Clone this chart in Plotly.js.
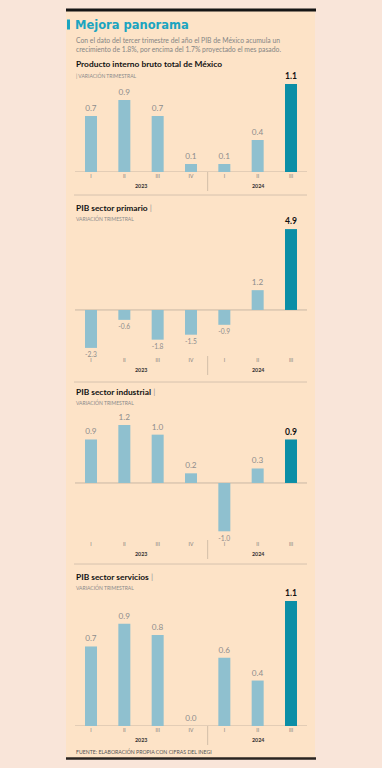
<!DOCTYPE html>
<html>
<head>
<meta charset="utf-8">
<script src="https://cdn.plot.ly/plotly-3.0.1.min.js"></script>
<style>
  html, body { margin: 0; padding: 0; background: #f9e5d9; }
  #chart { width: 382px; height: 768px; }
</style>
</head>
<body>
<div id="chart"></div>
<script>
// ---- Data ----
const quarters = ['I', 'II', 'III', 'IV', 'I', 'II', 'III'];
const years = ['2023', '2023', '2023', '2023', '2024', '2024', '2024'];
const pibTotal = [0.7, 0.9, 0.7, 0.1, 0.1, 0.4, 1.1];
const pibPrimario = [-2.3, -0.6, -1.8, -1.5, -0.9, 1.2, 4.9];
const pibIndustrial = [0.9, 1.2, 1.0, 0.2, -1.0, 0.3, 0.9];
const pibServicios = [0.7, 0.9, 0.8, 0.0, 0.6, 0.4, 1.1];

const chartTitles = [
  'Producto interno bruto total de México',
  'PIB sector primario',
  'PIB sector industrial',
  'PIB sector servicios'
];
const subTitle = 'VARIACIÓN TRIMESTRAL';
const mainTitle = 'Mejora panorama';
const intro = 'Con el dato del tercer trimestre del año el PIB de México acumula un<br>crecimiento de 1.8%, por encima del 1.7% proyectado el mes pasado.';
const source = 'FUENTE: ELABORACIÓN PROPIA CON CIFRAS DEL INEGI';

// ---- Layout helpers ----
const W = 382, H = 768;
const X = px => px / W;
const Y = py => 1 - py / H;

const LIGHT = '#8fc0cf';
const DARK = '#0b8ea6';
const TEAL = '#1ba4c0';
const FONT = 'Lato, "Open Sans", sans-serif';

const series = [pibTotal, pibPrimario, pibIndustrial, pibServicios];
// pixel geometry of each panel: plot top, plot bottom, y range
const panels = [
  { top: 80, bottom: 172, range: [0, 1.15], title: 64, sub: 75, subPrefix: true },
  { top: 222, bottom: 356, range: [-2.79, 5.33], title: 208, sub: 218 },
  { top: 410, bottom: 540, range: [-1.18, 1.51], title: 392, sub: 402 },
  { top: 595, bottom: 726, range: [0, 1.153], title: 577, sub: 587 }
];

const idx = quarters.map((_, i) => i);
const data = [];
const layout = {
  width: W, height: H,
  margin: { l: 0, r: 0, t: 0, b: 0 },
  paper_bgcolor: '#f9e5d9',
  plot_bgcolor: 'rgba(0,0,0,0)',
  showlegend: false,
  font: { family: FONT },
  shapes: [],
  annotations: []
};

// Panel background & black rules
layout.shapes.push({ type: 'rect', xref: 'paper', yref: 'paper', x0: X(66), x1: X(315), y0: Y(10), y1: Y(758),
  fillcolor: '#fde3c7', line: { width: 0 }, layer: 'below' });
layout.shapes.push({ type: 'line', xref: 'paper', yref: 'paper', x0: X(66), x1: X(316), y0: Y(10), y1: Y(10),
  line: { color: '#151515', width: 3 } });
layout.shapes.push({ type: 'line', xref: 'paper', yref: 'paper', x0: X(66), x1: X(316), y0: Y(758.5), y1: Y(758.5),
  line: { color: '#2a2420', width: 2.5 } });
layout.shapes.push({ type: 'rect', xref: 'paper', yref: 'paper', x0: X(67), x1: X(70), y0: Y(19.5), y1: Y(29.5),
  fillcolor: TEAL, line: { width: 0 } });
// separators between charts
[195, 382, 564].forEach(py => layout.shapes.push({ type: 'line', xref: 'paper', yref: 'paper',
  x0: X(74), x1: X(307), y0: Y(py), y1: Y(py), line: { color: '#d6c2ae', width: 1 } }));

// Header texts
layout.annotations.push({ xref: 'paper', yref: 'paper', x: X(73), y: Y(25), xanchor: 'left', yanchor: 'middle',
  text: '<b>' + mainTitle + '</b>', showarrow: false, font: { family: 'DejaVu Sans, sans-serif', size: 11.5, color: TEAL } });
layout.annotations.push({ xref: 'paper', yref: 'paper', x: X(74), y: Y(45), xanchor: 'left', yanchor: 'middle', align: 'left',
  text: intro, showarrow: false, font: { family: FONT, size: 6.8, color: '#858585' } });
layout.annotations.push({ xref: 'paper', yref: 'paper', x: X(74), y: Y(751), xanchor: 'left', yanchor: 'middle',
  text: source, showarrow: false, font: { family: FONT, size: 5.2, color: '#555' } });

// Year groups
const yearGroups = [];
years.forEach((yr, i) => {
  const last = yearGroups[yearGroups.length - 1];
  if (last && last.year === yr) last.end = i; else yearGroups.push({ year: yr, start: i, end: i });
});

series.forEach((vals, k) => {
  const n = k + 1;
  const xa = 'xaxis' + (n === 1 ? '' : n), ya = 'yaxis' + (n === 1 ? '' : n);
  const xr = 'x' + (n === 1 ? '' : n), yr = 'y' + (n === 1 ? '' : n);
  const p = panels[k];
  const last = vals.length - 1;
  data.push({
    type: 'bar', x: idx, y: vals, xaxis: xr, yaxis: yr, width: 0.36,
    marker: { color: vals.map((_, i) => i === last ? DARK : LIGHT), line: { width: 0 } },
    text: vals.map((v, i) => i === last ? '<b>' + v.toFixed(1) + '</b>' : v.toFixed(1)),
    textposition: 'outside',
    textfont: {
      family: FONT,
      size: vals.map((_, i) => i === last ? 10.5 : 8.2),
      color: vals.map((_, i) => i === last ? '#111' : '#8d8d8d')
    },
    cliponaxis: false, hoverinfo: 'none'
  });
  layout[xa] = {
    domain: [X(75), X(307)], anchor: yr, range: [-0.48, 6.48],
    tickvals: idx, ticktext: quarters, tickfont: { size: 5, color: '#7a7a7a', family: FONT },
    ticks: '', showgrid: false, zeroline: false, showline: false, fixedrange: true
  };
  layout[ya] = {
    domain: [Y(p.bottom), Y(p.top)], anchor: xr, range: p.range,
    showticklabels: false, showgrid: false, zeroline: false, showline: false, ticks: '', fixedrange: true
  };
  // baseline at zero
  layout.shapes.push({ type: 'line', xref: xr + ' domain', yref: yr, x0: 0, x1: 1, y0: 0, y1: 0,
    line: { color: '#c9b7a5', width: 1 }, layer: 'below' });
  // divider between year groups
  yearGroups.slice(1).forEach(g => layout.shapes.push({ type: 'line', xref: xr, yref: 'paper',
    x0: g.start - 0.5, x1: g.start - 0.5, y0: Y(p.bottom), y1: Y(p.bottom + 19), line: { color: '#d2bea9', width: 1 } }));
  // year labels
  yearGroups.forEach(g => layout.annotations.push({ xref: xr, yref: 'paper', x: (g.start + g.end) / 2, y: Y(p.bottom + 13.5),
    xanchor: 'center', yanchor: 'middle', text: '<b>' + g.year + '</b>', showarrow: false,
    font: { family: FONT, size: 5.3, color: '#333' } }));
  // titles
  const bar = '<span style="color:#9a9a9a">|</span>';
  const titleText = p.subPrefix ? '<b>' + chartTitles[k] + '</b>' : '<b>' + chartTitles[k] + '</b> ' + bar;
  layout.annotations.push({ xref: 'paper', yref: 'paper', x: X(74), y: Y(p.title), xanchor: 'left', yanchor: 'middle',
    text: titleText, showarrow: false, font: { family: FONT, size: 8.4, color: '#111' } });
  layout.annotations.push({ xref: 'paper', yref: 'paper', x: X(74), y: Y(p.sub), xanchor: 'left', yanchor: 'middle',
    text: (p.subPrefix ? '| ' : '') + subTitle, showarrow: false, font: { family: FONT, size: 5, color: '#8a8a8a' } });
});

Plotly.newPlot('chart', data, layout, { displayModeBar: false, staticPlot: true });
</script>
</body>
</html>
